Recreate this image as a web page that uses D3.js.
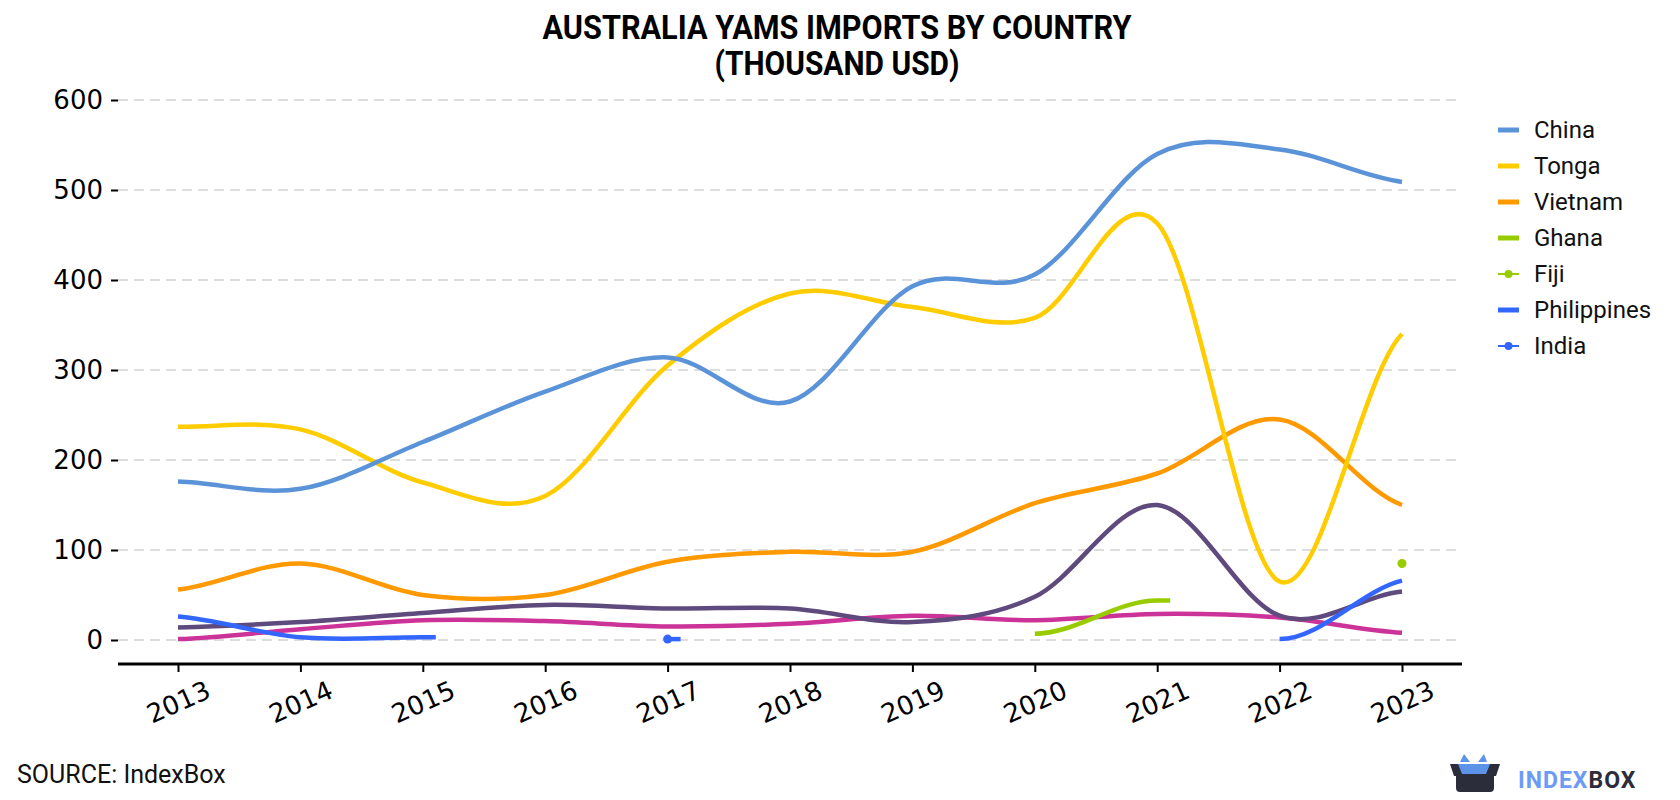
<!DOCTYPE html>
<html>
<head>
<meta charset="utf-8">
<script src="https://cdn.jsdelivr.net/npm/d3@7"></script>
<style>
  body { margin: 0; background: #fff; }
  svg { display: block; }
</style>
</head>
<body>
<div id="chart"></div>
<script>
const years = [2013, 2014, 2015, 2016, 2017, 2018, 2019, 2020, 2021, 2022, 2023];
const yTicks = [0, 100, 200, 300, 400, 500, 600];

const china = [176, 168, 220, 276, 314, 265, 393, 406, 540, 545, 509];
const tonga = [237, 234, 175, 160, 305, 385, 370, 358, 463, 65, 340];
const vietnam = [56, 85, 50, 50, 87, 98, 98, 152, 185, 245, 150];
const ghana = [null, null, null, null, null, null, null, 7, 44, null, null];
const fiji = [null, null, null, null, null, null, null, null, null, null, 85];
const philippines = [26, 3, 3, null, null, null, null, null, null, 1, 66];
const india = [null, null, null, null, 1, null, null, null, null, null, null];
const otherA = [14, 20, 30, 39, 35, 35, 20, 48, 150, 27, 54];
const otherB = [1, 12, 22, 21, 15, 18, 27, 22, 29, 25, 8];

const series = [
    { name: 'China', values: china, color: '#5b93d9', legend: true },
    { name: 'Tonga', values: tonga, color: '#ffcc00', legend: true },
    { name: 'Vietnam', values: vietnam, color: '#ff9900', legend: true },
    { name: 'Ghana', values: ghana, color: '#99cc00', legend: true },
    { name: 'Fiji', values: fiji, color: '#99cc00', legend: true, dot: true },
    { name: 'Philippines', values: philippines, color: '#3366ff', legend: true },
    { name: 'India', values: india, color: '#3366ff', legend: true, dot: true },
    { name: 'Other A', values: otherA, color: '#5e4a7c', legend: false },
    { name: 'Other B', values: otherB, color: '#cc3399', legend: false }
];
// draw order: purple and magenta below the named ones
const drawOrder = ['Other B', 'Other A', 'Philippines', 'India', 'Fiji', 'Ghana', 'Vietnam', 'Tonga', 'China'];

const width = 1680, height = 800;
const svg = d3.select('#chart').append('svg')
    .attr('width', width)
    .attr('height', height)
    .style('font-family', 'Roboto, sans-serif');

const x = d3.scaleLinear().domain([2013, 2023]).range([178, 1402]);
const y = d3.scaleLinear().domain([0, 600]).range([640, 100]);

// title
svg.append('text')
    .attr('x', 837).attr('y', 39)
    .attr('text-anchor', 'middle')
    .attr('font-size', '33px').attr('font-weight', 'bold')
    .attr('textLength', 589).attr('lengthAdjust', 'spacingAndGlyphs')
    .text('AUSTRALIA YAMS IMPORTS BY COUNTRY');
svg.append('text')
    .attr('x', 837).attr('y', 75)
    .attr('text-anchor', 'middle')
    .attr('font-size', '33px').attr('font-weight', 'bold')
    .attr('textLength', 245).attr('lengthAdjust', 'spacingAndGlyphs')
    .text('(THOUSAND USD)');

// grid
svg.append('g').selectAll('line')
    .data(yTicks)
    .enter().append('line')
    .attr('x1', 118).attr('x2', 1462)
    .attr('y1', d => y(d)).attr('y2', d => y(d))
    .attr('stroke', '#dddddd')
    .attr('stroke-width', 2)
    .attr('stroke-dasharray', '10,6');

// y axis
const yAxis = svg.append('g')
    .attr('transform', 'translate(118,0)')
    .call(d3.axisLeft(y).tickValues(yTicks).tickSize(7).tickPadding(8));
yAxis.select('.domain').remove();
yAxis.selectAll('.tick line').attr('stroke', '#000').attr('stroke-width', 2);
yAxis.selectAll('.tick text')
    .attr('font-family', 'DejaVu Sans, sans-serif')
    .attr('font-size', '26px')
    .attr('fill', '#000');

// x axis
const xAxis = svg.append('g')
    .attr('transform', 'translate(0,664)')
    .call(d3.axisBottom(x).tickValues(years).tickFormat(d3.format('d')).tickSize(8).tickSizeOuter(0));
xAxis.select('.domain')
    .attr('d', 'M118,0H1462')
    .attr('stroke', '#000').attr('stroke-width', 3);
xAxis.selectAll('.tick line').attr('stroke', '#000').attr('stroke-width', 2);
xAxis.selectAll('.tick text')
    .attr('font-family', 'DejaVu Sans, sans-serif')
    .attr('font-size', '26px')
    .attr('fill', '#000')
    .attr('y', 0).attr('dy', 0)
    .attr('text-anchor', 'middle')
    .attr('dominant-baseline', 'central')
    .attr('transform', 'translate(0,38) rotate(-24)');

// smooth path: catmull-rom tangents inside, flat next to a gap, half chord at series ends
function splinePath(values) {
    const out = [];
    const n = values.length;
    const has = i => i >= 0 && i < n && values[i] != null;
    const tangent = i => {
        const l = has(i - 1), r = has(i + 1);
        if (l && r) return (values[i + 1] - values[i - 1]) / 2;
        if ((!l && i > 0) || (!r && i < n - 1)) return 0;
        if (r) return (values[i + 1] - values[i]) / 2;
        if (l) return (values[i] - values[i - 1]) / 2;
        return 0;
    };
    let i = 0;
    while (i < n) {
        if (!has(i)) { i++; continue; }
        const p = d3.path();
        const start = i;
        p.moveTo(x(years[i]), y(values[i]));
        while (has(i + 1)) {
            const m0 = tangent(i), m1 = tangent(i + 1);
            const dx = years[i + 1] - years[i];
            p.bezierCurveTo(
                x(years[i] + dx / 3), y(values[i] + m0 * dx / 3),
                x(years[i + 1] - dx / 3), y(values[i + 1] - m1 * dx / 3),
                x(years[i + 1]), y(values[i + 1]));
            i++;
        }
        const open = i < n - 1;
        if (open) p.lineTo(x(years[i]) + 13, y(values[i]));
        out.push({ d: p.toString(), single: start === i, open: open, year: years[i], value: values[i] });
        i++;
    }
    return out;
}

const linesG = svg.append('g');
drawOrder.forEach(name => {
    const s = series.find(d => d.name === name);
    splinePath(s.values).forEach(seg => {
        if (!seg.single || seg.open) {
            linesG.append('path')
                .attr('d', seg.d)
                .attr('fill', 'none')
                .attr('stroke', s.color)
                .attr('stroke-width', 4.5);
        }
        if (seg.single) {
            linesG.append('circle')
                .attr('cx', x(seg.year))
                .attr('cy', y(seg.value))
                .attr('r', 4.5)
                .attr('fill', s.color);
        }
    });
});

// legend
const legend = svg.append('g').attr('transform', 'translate(1498,130)');
const items = legend.selectAll('g')
    .data(series.filter(d => d.legend))
    .enter().append('g')
    .attr('transform', (d, i) => `translate(0,${i * 36})`);
items.append('line')
    .attr('x1', 0).attr('x2', 21).attr('y1', 0).attr('y2', 0)
    .attr('stroke', d => d.color)
    .attr('stroke-width', d => d.dot ? 2 : 5);
items.filter(d => d.dot).append('circle')
    .attr('cx', 10.5).attr('cy', 0).attr('r', 4)
    .attr('fill', d => d.color);
items.append('text')
    .attr('x', 36).attr('y', 0)
    .attr('dominant-baseline', 'central')
    .attr('font-size', '24px')
    .attr('fill', '#111')
    .text(d => d.name);

// source
svg.append('text')
    .attr('x', 17).attr('y', 783)
    .attr('font-size', '25px')
    .attr('fill', '#111')
    .text('SOURCE: IndexBox');

// logo
const logo = svg.append('g').attr('transform', 'translate(1450,754)');
logo.append('path')
    .attr('d', 'M10,8 L14,0 L20,8 L28,8 L34,0 L37,8 Z')
    .attr('fill', '#5b93e8');
logo.append('path')
    .attr('d', 'M0,10 L50,10 L46,22 L44,22 L44,34 Q44,38 40,38 L10,38 Q6,38 6,34 L6,22 L4,22 Z')
    .attr('fill', '#2b2d3a');
logo.append('path')
    .attr('d', 'M8,10 L40,10 L36,20 L12,20 Z')
    .attr('fill', '#5b93e8');
logo.append('text')
    .attr('x', 68).attr('y', 34)
    .attr('font-size', '23px').attr('font-weight', 'bold')
    .attr('letter-spacing', '1px')
    .call(t => {
        t.append('tspan').attr('fill', '#6b9bf5').text('INDEX');
        t.append('tspan').attr('fill', '#2b2d3a').text('BOX');
    });
</script>
</body>
</html>
